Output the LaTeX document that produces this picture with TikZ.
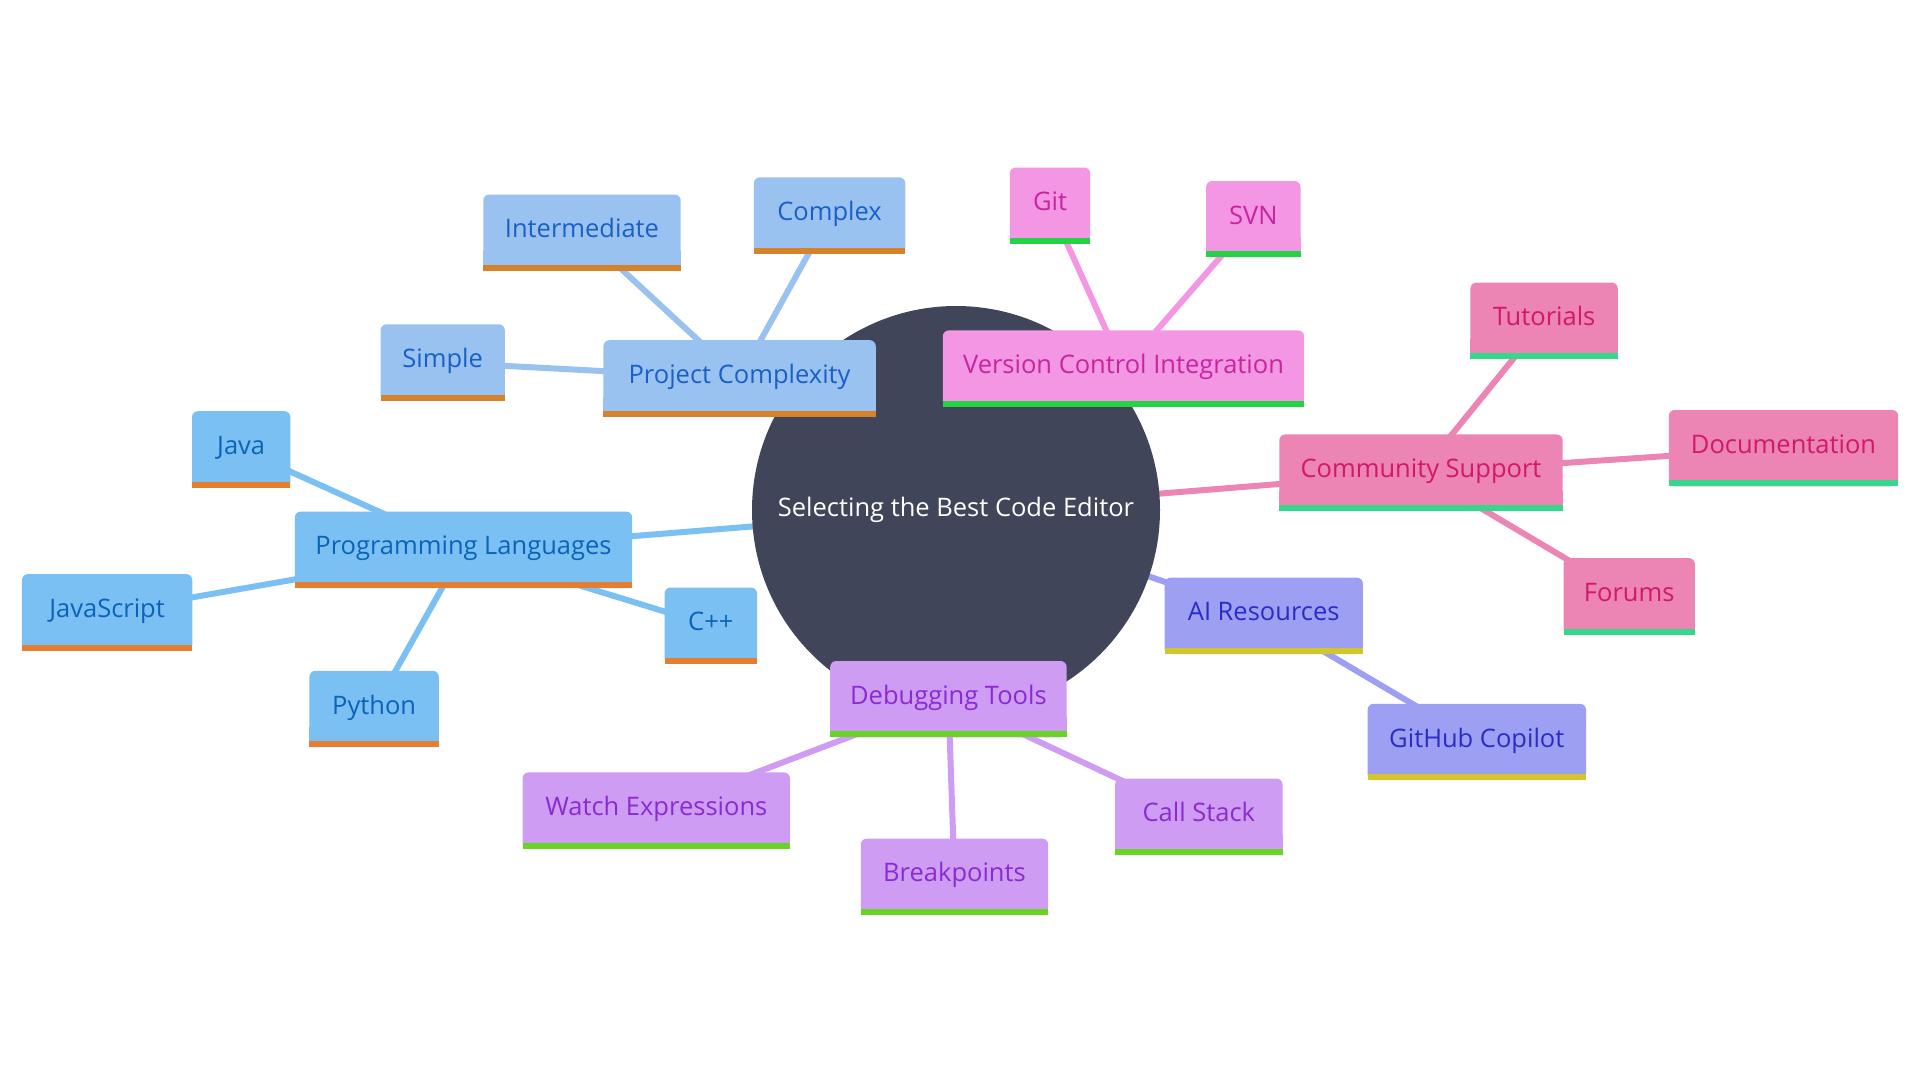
\documentclass[tikz,border=0pt]{standalone}
\usepackage{fontspec}
\setmainfont{Open Sans}
\definecolor{rootc}{HTML}{404559}
\definecolor{pcf}{HTML}{9AC2F0}\definecolor{pct}{HTML}{1A60C4}\definecolor{pcb}{HTML}{D6822A}
\definecolor{plf}{HTML}{7BC0F2}\definecolor{plt}{HTML}{0B63B8}\definecolor{plb}{HTML}{E57E31}
\definecolor{vcf}{HTML}{F397E5}\definecolor{vct}{HTML}{C8249F}\definecolor{vcb}{HTML}{22D443}
\definecolor{csf}{HTML}{EC84B4}\definecolor{cst}{HTML}{D1186A}\definecolor{csb}{HTML}{34D88C}
\definecolor{aif}{HTML}{9C9FF2}\definecolor{ait}{HTML}{2B2DC2}\definecolor{aib}{HTML}{D3C62B}
\definecolor{dtf}{HTML}{CE9CF2}\definecolor{dtt}{HTML}{8A2BD1}\definecolor{dtb}{HTML}{6AD425}
\pgfdeclarelayer{edgelayer}
\pgfdeclarelayer{boxlayer}
\pgfsetlayers{edgelayer,boxlayer,main}
\newcommand\mmbg[3]{%
  \fill[#2, rounded corners=6pt] (#1.south west) rectangle (#1.north east);
  \fill[#2] (#1.south west) rectangle ([yshift=20pt]#1.south east);
  \fill[#3] (#1.south west) rectangle ([yshift=6pt]#1.south east);
}
\begin{document}
\begin{tikzpicture}[x=1pt,y=-1pt,
  lbl/.style={inner sep=0pt, minimum height=76pt, font=\fontsize{25.5}{30}\selectfont,
    text height=18pt, text depth=8pt},
  edge/.style={line width=6pt, draw=#1}]
\useasboundingbox (0,0) rectangle (1920,1080);
% root
\node[circle, inner sep=0pt, minimum size=408pt, text=white,
  font=\fontsize{25.5}{30}\selectfont] (root) at (956,510) {Selecting the Best Code Editor};
% Project Complexity
\node[lbl, text=pct, minimum width=272pt] (pc) at (739.6,378.4) {Project Complexity};
\node[lbl, text=pct, minimum width=124pt] (simple) at (442.7,362.5) {Simple};
\node[lbl, text=pct, minimum width=197pt] (inter) at (582,232.7) {Intermediate};
\node[lbl, text=pct, minimum width=151pt] (complex) at (829.6,215.5) {Complex};
% Programming Languages
\node[lbl, text=plt, minimum width=337pt] (pl) at (463.5,549.8) {Programming Languages};
\node[lbl, text=plt, minimum width=98pt] (java) at (241.2,449.4) {Java};
\node[lbl, text=plt, minimum width=170pt] (js) at (107.1,612.3) {JavaScript};
\node[lbl, text=plt, minimum width=129pt] (python) at (374.1,709) {Python};
\node[lbl, text=plt, minimum width=92pt] (cpp) at (710.8,625.7) {C++};
% Version Control Integration
\node[lbl, text=vct, minimum width=361pt] (vci) at (1123.5,368.6) {Version Control Integration};
\node[lbl, text=vct, minimum width=80pt] (git) at (1050,205.7) {Git};
\node[lbl, text=vct, minimum width=94pt] (svn) at (1253.3,219.2) {SVN};
% Community Support
\node[lbl, text=cst, minimum width=283pt] (cs) at (1421,472.6) {Community Support};
\node[lbl, text=cst, minimum width=147pt] (tut) at (1544.1,320.8) {Tutorials};
\node[lbl, text=cst, minimum width=229pt] (doc) at (1783.5,448.2) {Documentation};
\node[lbl, text=cst, minimum width=131pt] (forums) at (1629.2,596.3) {Forums};
% AI Resources
\node[lbl, text=ait, minimum width=198pt] (ai) at (1263.7,615.9) {AI Resources};
\node[lbl, text=ait, minimum width=218pt] (copilot) at (1476.8,742) {GitHub Copilot};
% Debugging Tools
\node[lbl, text=dtt, minimum width=236pt] (dt) at (948.4,699.2) {Debugging Tools};
\node[lbl, text=dtt, minimum width=267pt] (watch) at (656.3,810.6) {Watch Expressions};
\node[lbl, text=dtt, minimum width=187pt] (bp) at (954.5,876.8) {Breakpoints};
\node[lbl, text=dtt, minimum width=167pt] (call) at (1198.8,816.7) {Call Stack};

\begin{pgfonlayer}{edgelayer}
  \draw[edge=pcf] (root.center) -- (pc.center);
  \draw[edge=pcf] (pc.center) -- (simple.center);
  \draw[edge=pcf] (pc.center) -- (inter.center);
  \draw[edge=pcf] (pc.center) -- (complex.center);
  \draw[edge=plf] (root.center) -- (pl.center);
  \draw[edge=plf] (pl.center) -- (java.center);
  \draw[edge=plf] (pl.center) -- (js.center);
  \draw[edge=plf] (pl.center) -- (python.center);
  \draw[edge=plf] (pl.center) -- (cpp.center);
  \draw[edge=vcf] (root.center) -- (vci.center);
  \draw[edge=vcf] (vci.center) -- (git.center);
  \draw[edge=vcf] (vci.center) -- (svn.center);
  \draw[edge=csf] (root.center) -- (cs.center);
  \draw[edge=csf] (cs.center) -- (tut.center);
  \draw[edge=csf] (cs.center) -- (doc.center);
  \draw[edge=csf] (cs.center) -- (forums.center);
  \draw[edge=aif] (root.center) -- (ai.center);
  \draw[edge=aif] (ai.center) -- (copilot.center);
  \draw[edge=dtf] (root.center) -- (dt.center);
  \draw[edge=dtf] (dt.center) -- (watch.center);
  \draw[edge=dtf] (dt.center) -- (bp.center);
  \draw[edge=dtf] (dt.center) -- (call.center);
  \fill[rootc] (root.center) circle[radius=204pt];
\end{pgfonlayer}

\begin{pgfonlayer}{boxlayer}
  \mmbg{pc}{pcf}{pcb}\mmbg{simple}{pcf}{pcb}\mmbg{inter}{pcf}{pcb}\mmbg{complex}{pcf}{pcb}
  \mmbg{pl}{plf}{plb}\mmbg{java}{plf}{plb}\mmbg{js}{plf}{plb}\mmbg{python}{plf}{plb}\mmbg{cpp}{plf}{plb}
  \mmbg{vci}{vcf}{vcb}\mmbg{git}{vcf}{vcb}\mmbg{svn}{vcf}{vcb}
  \mmbg{cs}{csf}{csb}\mmbg{tut}{csf}{csb}\mmbg{doc}{csf}{csb}\mmbg{forums}{csf}{csb}
  \mmbg{ai}{aif}{aib}\mmbg{copilot}{aif}{aib}
  \mmbg{dt}{dtf}{dtb}\mmbg{watch}{dtf}{dtb}\mmbg{bp}{dtf}{dtb}\mmbg{call}{dtf}{dtb}
\end{pgfonlayer}
\end{tikzpicture}
\end{document}
